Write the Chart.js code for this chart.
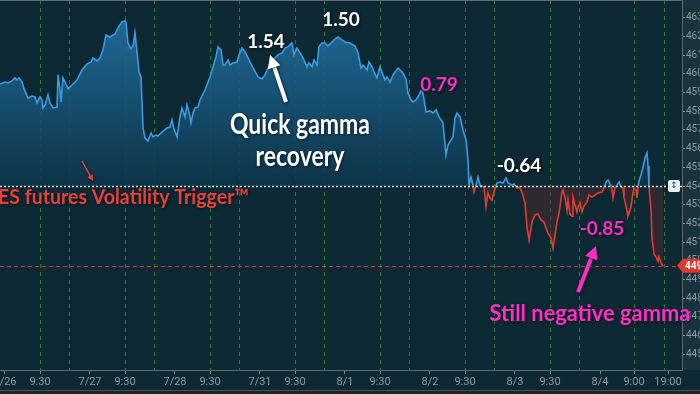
<!DOCTYPE html>
<html>
<head>
<meta charset="utf-8">
<script src="https://cdn.jsdelivr.net/npm/chart.js@4.4.0/dist/chart.umd.min.js"></script>
<style>
html, body { margin: 0; padding: 0; background: #0c2832; overflow: hidden; }
#wrap { width: 700px; height: 394px; position: relative; }
</style>
</head>
<body>
<div id="wrap"><canvas id="chart" width="700" height="394"></canvas></div>
<script>
// time = trading days counted from the 7/26 label, price = ES futures points
var times = [
    -0.059, 0, 0.035, 0.082, 0.118, 0.141, 0.165, 0.2, 0.224, 0.271,
    0.318, 0.353, 0.376, 0.412, 0.435, 0.447, 0.471, 0.506, 0.529, 0.565,
    0.612, 0.624, 0.647, 0.659, 0.682, 0.706, 0.741, 0.788, 0.847, 0.906,
    0.965, 1.012, 1.035, 1.082, 1.118, 1.153, 1.188, 1.235, 1.294, 1.329,
    1.376, 1.412, 1.424, 1.447, 1.482, 1.506, 1.529, 1.553, 1.576, 1.6,
    1.624, 1.647, 1.682, 1.718, 1.741, 1.776, 1.8, 1.847, 1.906, 1.941,
    1.965, 1.988, 2.024, 2.059, 2.082, 2.118, 2.141, 2.165, 2.188, 2.212,
    2.235, 2.271, 2.294, 2.353, 2.412, 2.447, 2.482, 2.506, 2.541, 2.565,
    2.588, 2.624, 2.647, 2.682, 2.729, 2.753, 2.788, 2.824, 2.859, 2.918,
    2.976, 3.024, 3.059, 3.094, 3.129, 3.176, 3.212, 3.259, 3.294, 3.329,
    3.376, 3.4, 3.435, 3.471, 3.506, 3.553, 3.576, 3.612, 3.635, 3.671,
    3.694, 3.729, 3.765, 3.8, 3.847, 3.882, 3.918, 3.965, 4.0, 4.059,
    4.118, 4.153, 4.188, 4.212, 4.259, 4.282, 4.318, 4.341, 4.376, 4.412,
    4.447, 4.471, 4.494, 4.529, 4.565, 4.624, 4.647, 4.682, 4.718, 4.741,
    4.776, 4.8, 4.835, 4.859, 4.894, 4.918, 4.953, 5.0, 5.035, 5.071,
    5.106, 5.153, 5.188, 5.212, 5.271, 5.294, 5.318, 5.353, 5.388, 5.424,
    5.447, 5.459, 5.482, 5.506, 5.518, 5.541, 5.565, 5.588, 5.612, 5.635,
    5.659, 5.682, 5.706, 5.729, 5.753, 5.788, 5.824, 5.859, 5.894, 5.918,
    5.965, 5.988, 6.024, 6.047, 6.082, 6.118, 6.141, 6.165, 6.2, 6.235,
    6.271, 6.306, 6.341, 6.365, 6.388, 6.424, 6.447, 6.471, 6.494, 6.518,
    6.553, 6.565, 6.588, 6.612, 6.624, 6.647, 6.671, 6.682, 6.706, 6.729,
    6.741, 6.765, 6.788, 6.812, 6.847, 6.871, 6.906, 6.941, 6.976, 7.024,
    7.047, 7.071, 7.094, 7.118, 7.141, 7.153, 7.176, 7.2, 7.224, 7.247,
    7.271, 7.282, 7.318, 7.329, 7.365, 7.388, 7.4, 7.424, 7.435, 7.459,
    7.482, 7.506, 7.529, 7.553, 7.565, 7.576, 7.6, 7.612, 7.635, 7.659,
    7.682, 7.694, 7.718, 7.741
];
var prices = [
    4594.6, 4595.7, 4595.2, 4596.3, 4597.9, 4596.8, 4597.9, 4595.7, 4592.0, 4587.1,
    4588.2, 4587.7, 4584.5, 4587.7, 4586.1, 4581.8, 4583.4, 4588.8, 4584.5, 4581.8,
    4582.3, 4599.5, 4591.4, 4585.0, 4597.9, 4595.7, 4592.0, 4594.1, 4596.8, 4602.1,
    4605.4, 4606.4, 4608.6, 4607.0, 4608.6, 4612.9, 4620.9, 4619.8, 4621.4, 4624.6,
    4627.9, 4628.4, 4627.3, 4616.6, 4613.4, 4615.0, 4622.0, 4611.8, 4601.1, 4598.4,
    4571.1, 4565.7, 4564.1, 4568.4, 4566.3, 4567.3, 4566.8, 4568.9, 4571.1, 4571.6,
    4575.4, 4570.5, 4566.3, 4577.0, 4581.8, 4577.0, 4583.4, 4579.6, 4573.8, 4579.1,
    4581.8, 4582.3, 4586.1, 4591.4, 4598.4, 4603.8, 4609.1, 4614.5, 4612.9, 4604.8,
    4604.8, 4607.5, 4604.8, 4605.9, 4606.4, 4610.2, 4613.9, 4611.8, 4608.6, 4603.2,
    4598.4, 4597.3, 4599.5, 4603.2, 4607.5, 4608.6, 4610.2, 4611.3, 4613.9, 4614.5,
    4616.6, 4610.2, 4613.9, 4611.3, 4608.6, 4603.8, 4605.9, 4603.8, 4607.5, 4604.8,
    4614.5, 4616.6, 4616.6, 4615.0, 4617.1, 4618.7, 4619.8, 4618.2, 4617.1, 4616.6,
    4615.0, 4611.3, 4603.2, 4604.8, 4602.1, 4606.4, 4603.8, 4601.1, 4597.9, 4603.8,
    4599.5, 4596.8, 4598.4, 4595.7, 4599.5, 4603.2, 4602.1, 4600.5, 4597.3, 4589.8,
    4586.1, 4585.0, 4586.1, 4587.7, 4590.9, 4589.8, 4579.6, 4580.2, 4579.1, 4580.7,
    4577.0, 4573.8, 4556.6, 4562.0, 4566.3, 4576.4, 4579.1, 4577.0, 4570.0, 4564.6,
    4553.9, 4540.5, 4544.8, 4540.5, 4536.8, 4540.5, 4544.8, 4540.5, 4540.0, 4539.5,
    4528.8, 4536.3, 4533.6, 4532.5, 4536.8, 4541.6, 4542.1, 4541.6, 4544.3, 4541.6,
    4540.5, 4541.1, 4538.9, 4539.5, 4536.8, 4530.9, 4518.0, 4511.1, 4520.7, 4524.5,
    4525.0, 4521.8, 4520.7, 4517.5, 4514.8, 4512.1, 4506.8, 4513.8, 4520.7, 4525.5,
    4536.8, 4537.9, 4534.1, 4527.1, 4532.5, 4525.0, 4523.9, 4534.1, 4529.8, 4526.1,
    4528.8, 4530.9, 4526.1, 4529.3, 4531.4, 4535.2, 4534.1, 4535.2, 4536.3, 4536.8,
    4538.9, 4542.1, 4543.2, 4541.1, 4537.9, 4533.6, 4538.9, 4540.5, 4542.1, 4539.5,
    4538.9, 4534.1, 4526.6, 4523.9, 4528.8, 4536.3, 4538.9, 4537.9, 4533.6, 4542.7,
    4545.9, 4550.2, 4555.0, 4557.7, 4550.7, 4540.0, 4527.1, 4512.1, 4503.6, 4502.0,
    4499.8, 4502.0, 4498.8, 4497.1
];

var trigger = 4540;
var lastPrice = 4497.25;

var dateTicks = [0, 1, 2, 3, 4, 5, 6, 7];
var dateLabels = ["7/26", "7/27", "7/28", "7/31", "8/1", "8/2", "8/3", "8/4"];
var openTicks = [0.412, 1.412, 2.412, 3.412, 4.412, 5.412, 6.412, 7.4];
var openLabels = ["9:30", "9:30", "9:30", "9:30", "9:30", "9:30", "9:30", "9:00"];
var closeTicks = [0.753, 1.753, 2.753, 3.753, 4.753, 5.753, 6.753, 7.753];
var endTicks = [7.8];
var endLabels = ["19:00"];
var priceTicks = [4450, 4460, 4470, 4480, 4490, 4500, 4510, 4520, 4530, 4540,
    4550, 4560, 4570, 4580, 4590, 4600, 4610, 4620, 4630];

var notes = [
    { text: "1.54", t: 3.07, p: 4617.1, color: "#ffffff", size: 19 },
    { text: "1.50", t: 3.953, p: 4628.9, color: "#ffffff", size: 19 },
    { text: "0.79", t: 5.106, p: 4594.1, color: "#ff2ec4", size: 19 },
    { text: "Quick gamma", t: 3.47, p: 4572.7, color: "#ffffff", size: 28, sx: 0.82 },
    { text: "recovery", t: 3.47, p: 4555.5, color: "#ffffff", size: 28, sx: 0.82 },
    { text: "-0.64", t: 6.047, p: 4550.7, color: "#ffffff", size: 19 },
    { text: "-0.85", t: 7.024, p: 4517.0, color: "#ff2ec4", size: 19 },
    { text: "Still negative gamma", t: 6.882, p: 4471.9, color: "#ff2ec4", size: 23, sx: 0.95 },
    { text: "ES futures Volatility Trigger\u2122", t: -0.082, p: 4534.1, color: "#e8403a", size: 21, sx: 0.93, align: "left" },
];
var arrows = [
    { t1: 3.306, p1: 4585.0, t2: 3.118, p2: 4610.2, color: "#ffffff", w: 4, head: 13 },
    { t1: 6.741, p1: 4483.2, t2: 6.953, p2: 4507.9, color: "#ff2ec4", w: 4, head: 13 },
    { t1: 0.906, p1: 4553.4, t2: 1.035, p2: 4542.7, color: "#e8403a", w: 1.5, head: 6 },
];

var tickLabel = {};
dateTicks.forEach((v, i) => (tickLabel[v.toFixed(3)] = dateLabels[i]));
openTicks.forEach((v, i) => (tickLabel[v.toFixed(3)] = openLabels[i]));
closeTicks.forEach((v) => (tickLabel[v.toFixed(3)] = ""));
endTicks.forEach((v, i) => (tickLabel[v.toFixed(3)] = endLabels[i]));
var sessionLines = openTicks.concat(closeTicks).map((v) => v.toFixed(3));

function drawArrow(ctx, x1, y1, x2, y2, color, w, head) {
    var ang = Math.atan2(y2 - y1, x2 - x1);
    var bx = x2 - Math.cos(ang) * head;
    var by = y2 - Math.sin(ang) * head;
    ctx.save();
    ctx.strokeStyle = color;
    ctx.fillStyle = color;
    ctx.lineWidth = w;
    ctx.beginPath();
    ctx.moveTo(x1, y1);
    ctx.lineTo(bx, by);
    ctx.stroke();
    ctx.beginPath();
    ctx.moveTo(x2, y2);
    ctx.lineTo(bx + Math.cos(ang + Math.PI / 2) * head * 0.5, by + Math.sin(ang + Math.PI / 2) * head * 0.5);
    ctx.lineTo(bx + Math.cos(ang - Math.PI / 2) * head * 0.5, by + Math.sin(ang - Math.PI / 2) * head * 0.5);
    ctx.closePath();
    ctx.fill();
    ctx.restore();
}

var backdrop = {
    id: "backdrop",
    beforeDraw(chart) {
        var ctx = chart.ctx, a = chart.chartArea;
        ctx.save();
        ctx.fillStyle = "#0c2832";
        ctx.fillRect(0, 0, chart.width, chart.height);
        ctx.fillStyle = "#18333d";
        ctx.fillRect(a.right, 0, chart.width - a.right, a.bottom);
        ctx.fillStyle = "#4a5257";
        ctx.fillRect(0, chart.height - 4, chart.width, 1);
        ctx.fillStyle = "#1d2326";
        ctx.fillRect(0, chart.height - 3, chart.width, 3);
        ctx.restore();
    },
    afterDatasetsDraw(chart) {
        var ctx = chart.ctx, a = chart.chartArea, y = chart.scales.y;
        ctx.save();
        // volatility trigger level
        var ty = Math.round(y.getPixelForValue(trigger)) + 0.5;
        ctx.strokeStyle = "#d8dde0";
        ctx.lineWidth = 1.5;
        ctx.setLineDash([2, 2]);
        ctx.beginPath();
        ctx.moveTo(a.left, ty);
        ctx.lineTo(a.right, ty);
        ctx.stroke();
        // last price level
        var cy = Math.round(y.getPixelForValue(lastPrice)) + 0.5;
        ctx.strokeStyle = "#d23a30";
        ctx.lineWidth = 1;
        ctx.setLineDash([4, 3]);
        ctx.beginPath();
        ctx.moveTo(a.left, cy);
        ctx.lineTo(a.right, cy);
        ctx.stroke();
        ctx.restore();
    },
    afterDraw(chart) {
        var ctx = chart.ctx, a = chart.chartArea, x = chart.scales.x, y = chart.scales.y;
        ctx.save();
        ctx.fillStyle = "#5d6b70";
        ctx.fillRect(0, 0, a.right, 1);

        // small handle on the trigger line
        var ty = y.getPixelForValue(trigger);
        ctx.fillStyle = "#eef1f3";
        ctx.beginPath();
        ctx.roundRect(a.right - 14, ty - 6, 12, 12, 2);
        ctx.fill();
        ctx.fillStyle = "#2d6db0";
        ctx.font = "bold 9px 'DejaVu Sans'";
        ctx.textAlign = "center";
        ctx.textBaseline = "middle";
        ctx.fillText("\u2195", a.right - 8, ty);

        // last price tag
        var cy = y.getPixelForValue(lastPrice);
        ctx.fillStyle = "#e0392f";
        ctx.beginPath();
        ctx.moveTo(a.right - 5, cy);
        ctx.lineTo(a.right + 1, cy - 7);
        ctx.lineTo(chart.width, cy - 7);
        ctx.lineTo(chart.width, cy + 7);
        ctx.lineTo(a.right + 1, cy + 7);
        ctx.closePath();
        ctx.fill();
        ctx.fillStyle = "#ffffff";
        ctx.font = "bold 10px Roboto";
        ctx.textAlign = "left";
        ctx.fillText(lastPrice.toFixed(2), a.right + 3, cy + 0.5);

        ctx.shadowColor = "rgba(0,0,0,0.55)";
        ctx.shadowBlur = 3;
        ctx.shadowOffsetX = 1;
        ctx.shadowOffsetY = 1;
        arrows.forEach((r) => {
            drawArrow(ctx, x.getPixelForValue(r.t1), y.getPixelForValue(r.p1),
                x.getPixelForValue(r.t2), y.getPixelForValue(r.p2), r.color, r.w, r.head);
        });
        notes.forEach((n) => {
            var px = x.getPixelForValue(n.t), py = y.getPixelForValue(n.p);
            ctx.save();
            ctx.translate(px, py);
            ctx.scale(n.sx || 1, 1);
            ctx.font = "bold " + n.size + "px Lato";
            ctx.fillStyle = n.color;
            ctx.textAlign = n.align || "center";
            ctx.textBaseline = "middle";
            ctx.fillText(n.text, 0, 0);
            ctx.restore();
        });
        ctx.restore();
    },
};

var chart = new Chart(document.getElementById("chart"), {
    type: "line",
    data: {
        datasets: [
            {
                data: times.map((t, i) => ({ x: t, y: prices[i] })),
                borderColor: "#3b9be0",
                borderWidth: 1.6,
                pointRadius: 0,
                tension: 0,
                fill: { target: { value: trigger }, above: "rgba(30,100,145,0.85)", below: "rgba(75,40,48,0.55)" },
            },
        ],
    },
    options: {
        responsive: false,
        animation: false,
        events: [],
        layout: { padding: 0, autoPadding: false },
        plugins: { legend: { display: false }, tooltip: { enabled: false } },
        scales: {
            x: {
                type: "linear",
                min: -0.0588,
                max: 7.9647,
                afterBuildTicks: (s) => {
                    s.ticks = dateTicks.concat(openTicks, closeTicks, endTicks)
                        .sort((a, b) => a - b)
                        .map((v) => ({ value: v }));
                },
                afterFit: (s) => {
                    s.height = 24;
                    s.paddingLeft = 0;
                    s.paddingRight = 0;
                },
                ticks: {
                    autoSkip: false,
                    maxRotation: 0,
                    minRotation: 0,
                    padding: 2,
                    color: "#8d9ba1",
                    font: { family: "Roboto", size: 11 },
                    callback: (v) => tickLabel[Number(v).toFixed(3)] || "",
                },
                grid: {
                    color: (c) => (c.tick && sessionLines.indexOf(c.tick.value.toFixed(3)) >= 0 ? "#1f7f38" : "rgba(0,0,0,0)"),
                    lineWidth: 1,
                    tickLength: 4,
                    tickColor: (c) => (c.tick && tickLabel[c.tick.value.toFixed(3)] ? "#75858b" : "rgba(0,0,0,0)"),
                },
                border: { color: "#5d6b70", width: 1, dash: [4, 4] },
            },
            y: {
                position: "right",
                min: 4441.5,
                max: 4639.6,
                afterBuildTicks: (s) => {
                    s.ticks = priceTicks.map((v) => ({ value: v }));
                },
                afterFit: (s) => {
                    s.width = 18;
                    s.paddingTop = 0;
                    s.paddingBottom = 0;
                },
                ticks: {
                    padding: 1,
                    color: "#8d9ba1",
                    font: { family: "Roboto", size: 10 },
                    callback: (v) => String(v),
                },
                grid: { drawOnChartArea: false, tickLength: 3, tickColor: "#75858b" },
                border: { color: "#5d6b70", width: 1 },
            },
        },
    },
    plugins: [backdrop],
});

// colours that depend on where the trigger level sits on screen
var area = chart.chartArea;
var trigY = chart.scales.y.getPixelForValue(trigger);
var stop = (trigY - area.top) / (area.bottom - area.top);
var g = chart.ctx;
var lineGrad = g.createLinearGradient(0, area.top, 0, area.bottom);
lineGrad.addColorStop(0, "#3b9be0");
lineGrad.addColorStop(stop, "#3b9be0");
lineGrad.addColorStop(stop, "#e23b30");
lineGrad.addColorStop(1, "#e23b30");
var fillGrad = g.createLinearGradient(0, area.top, 0, trigY);
fillGrad.addColorStop(0, "rgba(36,118,170,0.9)");
fillGrad.addColorStop(1, "rgba(12,52,72,0.9)");
chart.data.datasets[0].borderColor = lineGrad;
chart.data.datasets[0].fill = { target: { value: trigger }, above: fillGrad, below: "rgba(75,40,48,0.55)" };
chart.update("none");
</script>
</body>
</html>
